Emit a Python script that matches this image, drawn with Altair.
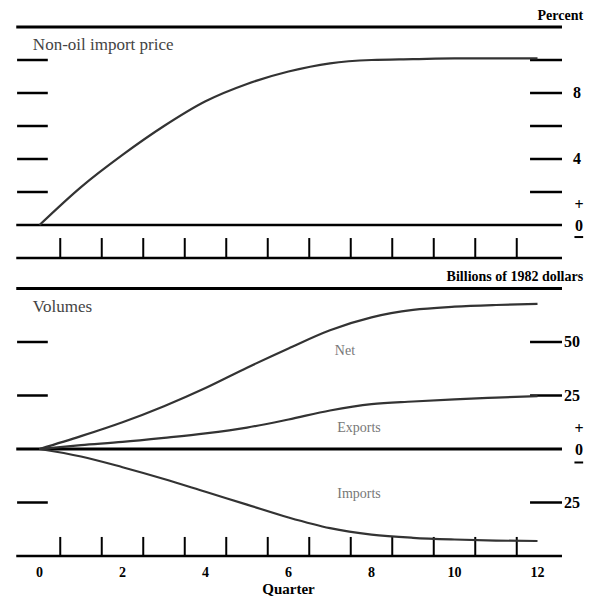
import altair as alt
import pandas as pd

# ---- data ----
quarters = list(range(13))
import_price = [0, 2.3, 4.25, 6.0, 7.5, 8.55, 9.3, 9.8, 10.0, 10.05, 10.1, 10.1, 10.1]
net_volume = [0, 6, 12.5, 20, 28.5, 38, 47, 55.5, 61.5, 65, 66.5, 67.3, 67.8]
export_volume = [0, 1.8, 3.3, 5.2, 7.3, 10, 13.8, 18, 21, 22.2, 23.2, 24, 24.7]
import_volume = [0, -3.5, -8.5, -14, -20, -26, -32, -37, -40, -41.5, -42.3, -42.8, -43]

price_ticks = [2, 4, 6, 8, 10]
price_labels = [4, 8]
volume_ticks = [50, 25, -25]
volume_labels = ["50", "25", "25"]
quarter_ticks = [0.5, 1.5, 2.5, 3.5, 4.5, 5.5, 6.5, 7.5, 8.5, 9.5, 10.5, 11.5]
quarter_labels = [0, 2, 4, 6, 8, 10, 12]

FONT = "Liberation Serif"
W = 582
xs = alt.Scale(domain=[-0.759, 13.265], nice=False, zero=False)
ys_top = alt.Scale(domain=[-2.3636, 13.1515], nice=False, zero=False)
ys_bot = alt.Scale(domain=[-67.757, 85.514], nice=False, zero=False)

XL, XL2 = -0.54, 0.2        # left dashes
XR, XR2 = 11.82, 12.59      # right dashes
XA, XA2 = -0.56, 12.59      # full-width rules
XU, XU2 = 12.89, 13.1       # underline below the zero label


def X(v):
    return alt.XDatum(v, type="quantitative", scale=xs, axis=None)


def Y(v, ys):
    return alt.YDatum(v, type="quantitative", scale=ys, axis=None)


def hrule(y, ys, x1, x2, w):
    return alt.Chart(pd.DataFrame({"y": [y]})).mark_rule(color="black", strokeWidth=w).encode(
        x=X(x1), x2=alt.X2Datum(x2), y=alt.Y("y:Q", scale=ys, axis=None))


def dashes(levels, ys, x1, x2):
    return alt.Chart(pd.DataFrame({"y": levels})).mark_rule(color="black", strokeWidth=2.5).encode(
        x=X(x1), x2=alt.X2Datum(x2), y=alt.Y("y:Q", scale=ys, axis=None))


def vticks(ys, y0, y1):
    return alt.Chart(pd.DataFrame({"q": quarter_ticks})).mark_rule(color="black", strokeWidth=2).encode(
        x=alt.X("q:Q", scale=xs, axis=None), y=Y(y0, ys), y2=alt.Y2Datum(y1))


def txt(s, x, y, ys, size=15, bold=False, align="left", color="black", baseline="middle"):
    return alt.Chart(pd.DataFrame({"t": [s]})).mark_text(
        font=FONT, fontSize=size, fontWeight="bold" if bold else "normal",
        align=align, baseline=baseline, color=color).encode(
        x=X(x), y=Y(y, ys), text="t:N")


def curve(values, ys, color="#333333", w=2.2):
    df = pd.DataFrame({"q": quarters, "v": values})
    return alt.Chart(df).mark_line(color=color, strokeWidth=w, interpolate="monotone").encode(
        x=alt.X("q:Q", scale=xs, axis=None), y=alt.Y("v:Q", scale=ys, axis=None))


# ---- top panel: non-oil import price ----
top_layers = [
    hrule(12, ys_top, XA, XA2, 3),
    hrule(0, ys_top, XA, XA2, 2.5),
    hrule(-2, ys_top, XA, XA2, 2.5),
    dashes(price_ticks, ys_top, XL, XL2),
    dashes(price_ticks, ys_top, XR, XR2),
    vticks(ys_top, -2, -0.79),
    curve(import_price, ys_top),
    txt("Percent", 13.1, 12.67, ys_top, size=14, bold=True, align="right"),
    txt("Non-oil import price", -0.16, 10.91, ys_top, size=17, color="#444444"),
    txt("+", 13.0, 1.2, ys_top, size=16, bold=True, align="center"),
    txt("0", 13.0, -0.05, ys_top, size=16, bold=True, align="center"),
    hrule(-0.73, ys_top, XU, XU2, 2),
]
for v in price_labels:
    top_layers.append(txt(str(v), 12.855, v, ys_top, size=16, bold=True))
top = alt.layer(*top_layers).properties(width=W, height=256)

# ---- bottom panel: volumes ----
bot_layers = [
    hrule(75, ys_bot, XA, XA2, 3),
    hrule(0, ys_bot, XA, XA2, 3),
    hrule(-50, ys_bot, XA, XA2, 2.5),
    dashes(volume_ticks, ys_bot, XL, XL2),
    dashes(volume_ticks, ys_bot, XR, XR2),
    vticks(ys_bot, -50, -41.1),
    curve(net_volume, ys_bot),
    curve(export_volume, ys_bot),
    curve(import_volume, ys_bot),
    txt("Billions of 1982 dollars", 13.1, 80.4, ys_bot, size=14, bold=True, align="right"),
    txt("Volumes", -0.16, 66.4, ys_bot, size=17, color="#444444"),
    txt("Net", 7.36, 46, ys_bot, size=14, color="#777777", align="center"),
    txt("Exports", 7.7, 10, ys_bot, size=14, color="#777777", align="center"),
    txt("Imports", 7.7, -21, ys_bot, size=14, color="#777777", align="center"),
    txt("+", 13.0, 9.2, ys_bot, size=16, bold=True, align="center"),
    txt("0", 13.0, -0.3, ys_bot, size=16, bold=True, align="center"),
    hrule(-6.3, ys_bot, XU, XU2, 2),
    txt("Quarter", 6, -65.4, ys_bot, size=15, bold=True, align="center"),
]
for v, s in zip(volume_ticks, volume_labels):
    bot_layers.append(txt(s, 12.64, v, ys_bot, size=16, bold=True))
for q in quarter_labels:
    bot_layers.append(txt(str(q), q, -57.9, ys_bot, size=14, bold=True, align="center"))
bottom = alt.layer(*bot_layers).properties(width=W, height=328)

chart = alt.vconcat(top, bottom, spacing=2).properties(
    padding=0, background="white").configure_view(stroke=None)

chart.save("out.html", embed_options={"renderer": "svg", "actions": False})
